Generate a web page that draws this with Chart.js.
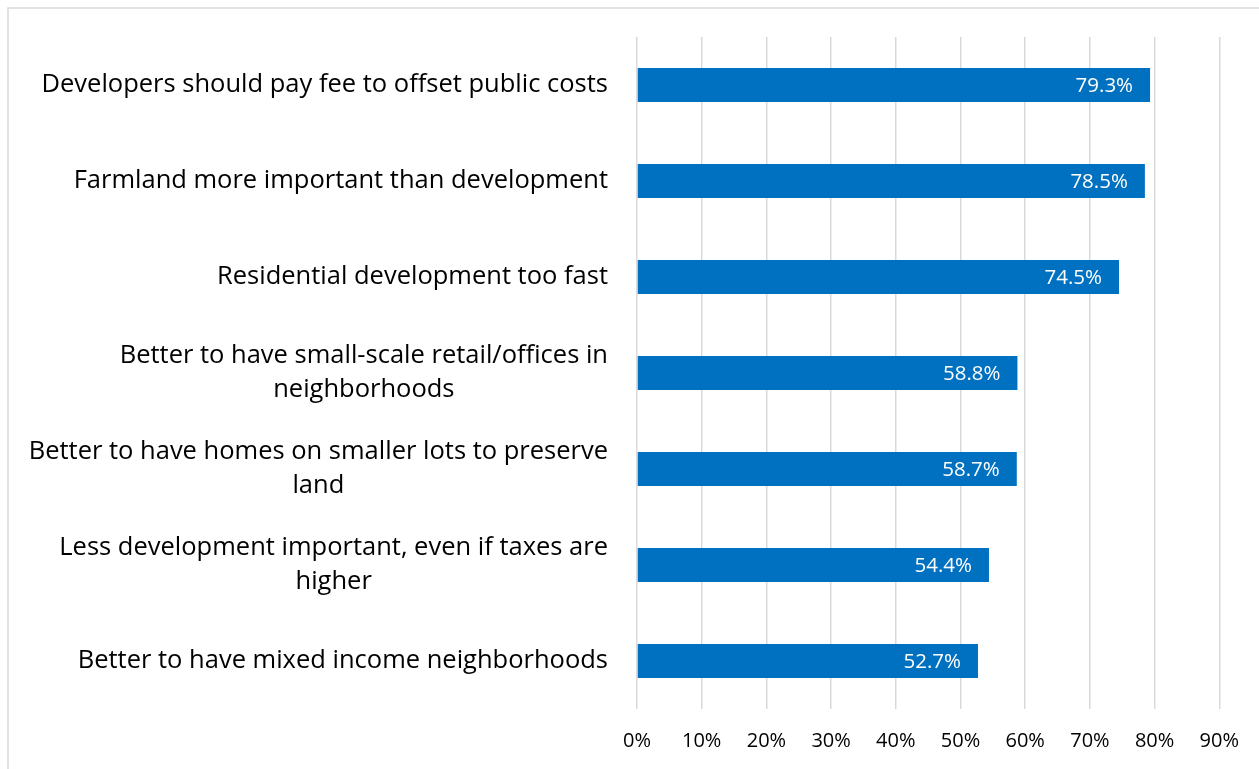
<!DOCTYPE html>
<html>
<head>
<meta charset="utf-8">
<script src="https://cdn.jsdelivr.net/npm/chart.js@4/dist/chart.umd.min.js"></script>
<style>
html,body{margin:0;padding:0;background:#fff;overflow:hidden;}
#wrap{position:absolute;left:0;top:0;width:1259px;height:769px;}
</style>
</head>
<body>
<div id="wrap"><canvas id="c" width="1259" height="769"></canvas></div>
<script>
const categories = [
  "Developers should pay fee to offset public costs",
  "Farmland more important than development",
  "Residential development too fast",
  ["Better to have small-scale retail/offices in", "neighborhoods"],
  ["Better to have homes on smaller lots to preserve", "land"],
  ["Less development important, even if taxes are", "higher"],
  "Better to have mixed income neighborhoods"
];
const values = [79.3, 78.5, 74.5, 58.8, 58.7, 54.4, 52.7];
const tickMax = 90;
const tickStep = 10;

const FONT = "'Open Sans', 'Noto Sans', sans-serif";

const frame = {
  id: 'frame',
  beforeDraw(chart) {
    const ctx = chart.ctx;
    ctx.save();
    ctx.fillStyle = '#ffffff';
    ctx.fillRect(0, 0, chart.width, chart.height);
    ctx.strokeStyle = '#d9d9d9';
    ctx.lineWidth = 1.5;
    ctx.beginPath();
    ctx.moveTo(8, chart.height);
    ctx.lineTo(8, 8);
    ctx.lineTo(chart.width, 8);
    ctx.stroke();
    ctx.restore();
  }
};

const catLabels = {
  id: 'catLabels',
  afterDraw(chart) {
    const ctx = chart.ctx;
    const y = chart.scales.y;
    const rightEdge = chart.chartArea.left - 29;
    const lh = 34;
    ctx.save();
    ctx.font = "25.5px " + FONT;
    ctx.fillStyle = '#000000';
    ctx.textBaseline = 'middle';
    ctx.textAlign = 'center';
    chart.data.labels.forEach((lab, i) => {
      const lines = Array.isArray(lab) ? lab : [lab];
      const maxW = Math.max(...lines.map(l => ctx.measureText(l).width));
      const cx = rightEdge - maxW / 2;
      const cy = y.getPixelForTick(i);
      const y0 = cy - (lines.length - 1) * lh / 2;
      lines.forEach((l, k) => ctx.fillText(l, cx, y0 + k * lh));
    });
    ctx.restore();
  }
};

const valueLabels = {
  id: 'valueLabels',
  afterDatasetsDraw(chart) {
    const ctx = chart.ctx;
    const meta = chart.getDatasetMeta(0);
    ctx.save();
    ctx.font = "20.5px " + FONT;
    ctx.fillStyle = '#ffffff';
    ctx.textAlign = 'right';
    ctx.textBaseline = 'middle';
    meta.data.forEach((bar, i) => {
      const v = chart.data.datasets[0].data[i];
      ctx.fillText(v.toFixed(1) + '%', bar.x - 17, bar.y + 1);
    });
    ctx.restore();
  }
};

new Chart(document.getElementById('c'), {
  type: 'bar',
  data: {
    labels: categories,
    datasets: [{
      data: values,
      backgroundColor: '#0070C0',
      borderWidth: 0,
      barPercentage: 0.354,
      categoryPercentage: 1.0
    }]
  },
  options: {
    indexAxis: 'y',
    responsive: false,
    animation: false,
    devicePixelRatio: 1,
    layout: { padding: { left: 0, top: 37, right: 38, bottom: 0 } },
    plugins: { legend: { display: false }, tooltip: { enabled: false } },
    scales: {
      x: {
        min: 0,
        max: tickMax,
        ticks: {
          stepSize: tickStep,
          callback: v => v + '%',
          color: '#000000',
          font: { family: FONT, size: 20 },
          padding: 20
        },
        grid: { color: '#d9d9d9', lineWidth: 1.5, drawTicks: false },
        border: { display: false },
        afterFit(s) { s.height = 60; }
      },
      y: {
        ticks: { display: false },
        grid: { display: false },
        border: { display: false },
        afterFit(s) { s.width = 637; }
      }
    }
  },
  plugins: [frame, catLabels, valueLabels]
});
</script>
</body>
</html>
